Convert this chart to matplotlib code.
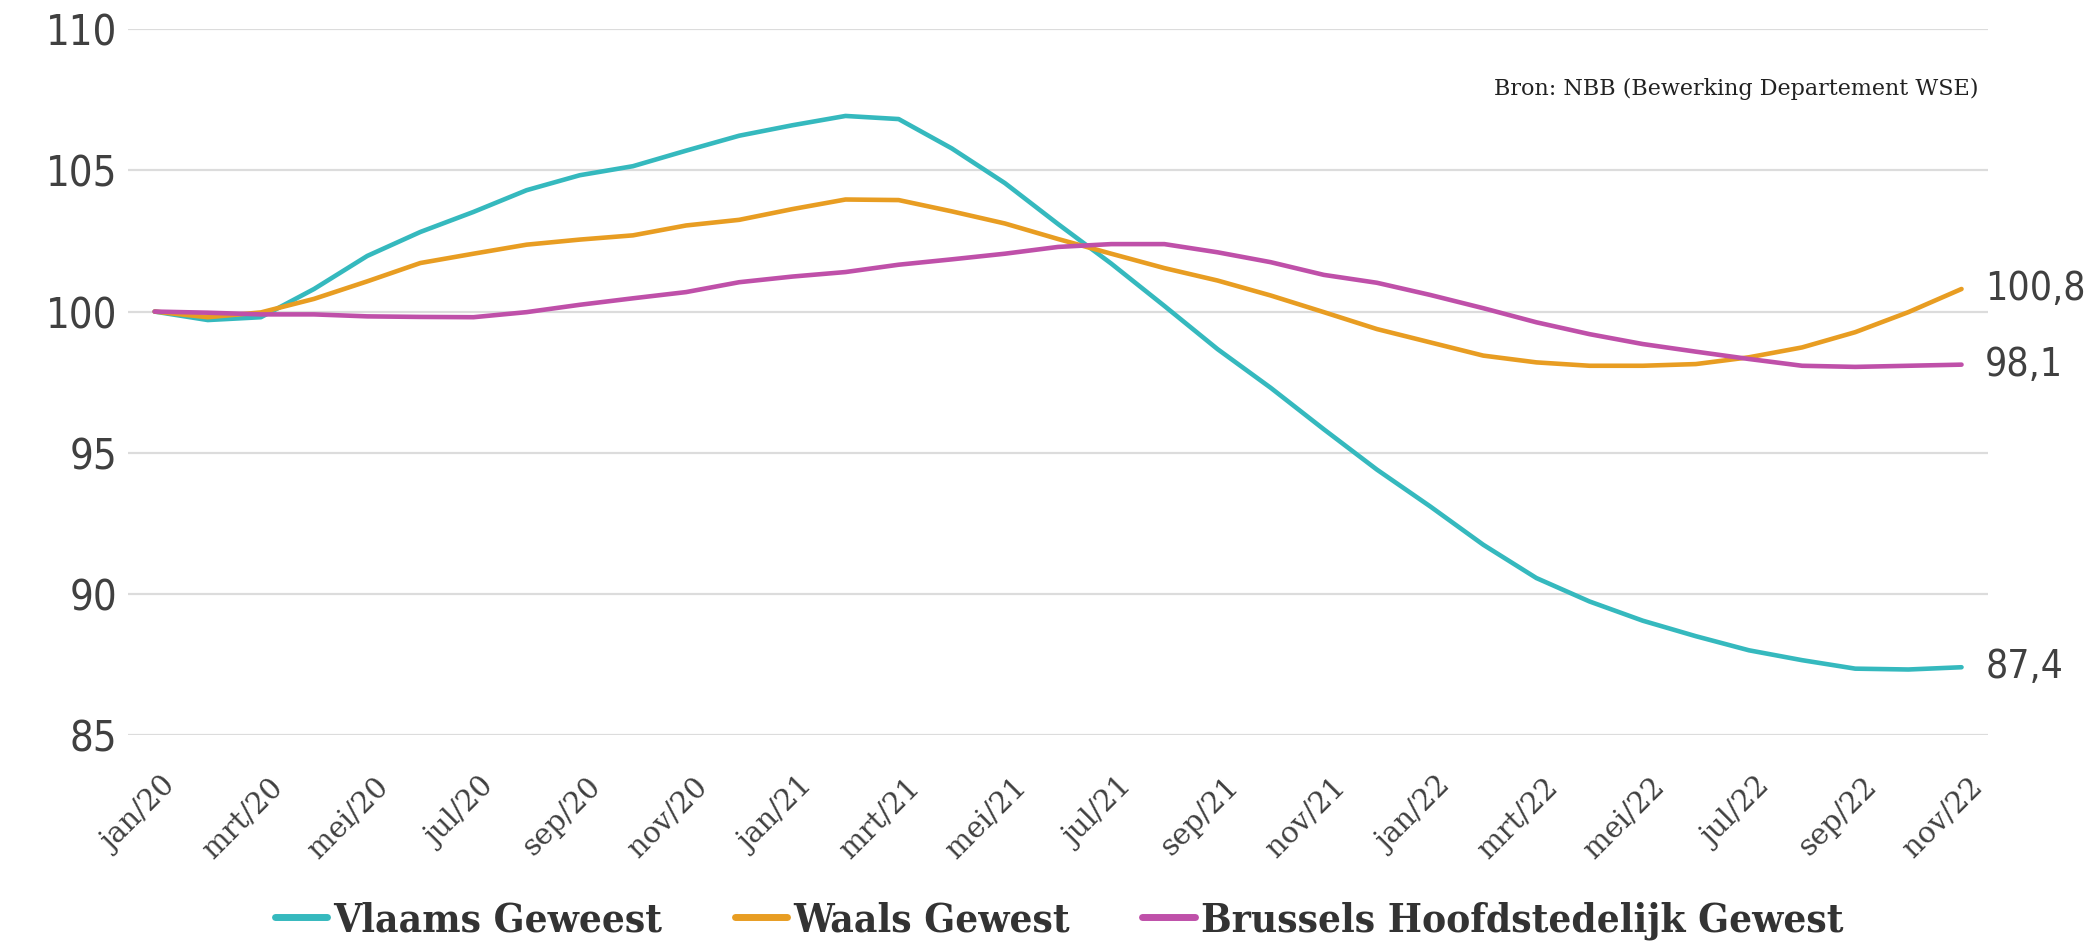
import numpy as np
import matplotlib
matplotlib.use("Agg")
import matplotlib.pyplot as plt
from matplotlib.transforms import ScaledTranslation

months = ['jan/20', 'feb/20', 'mrt/20', 'apr/20', 'mei/20', 'jun/20', 'jul/20', 'aug/20',
          'sep/20', 'okt/20', 'nov/20', 'dec/20', 'jan/21', 'feb/21', 'mrt/21', 'apr/21',
          'mei/21', 'jun/21', 'jul/21', 'aug/21', 'sep/21', 'okt/21', 'nov/21', 'dec/21',
          'jan/22', 'feb/22', 'mrt/22', 'apr/22', 'mei/22', 'jun/22', 'jul/22', 'aug/22',
          'sep/22', 'okt/22', 'nov/22']

vlaams = [100.0, 99.7, 99.8, 100.8, 101.97, 102.82, 103.53, 104.3, 104.83, 105.15, 105.7,
          106.23, 106.6, 106.93, 106.82, 105.78, 104.55, 103.1, 101.7, 100.2, 98.67, 97.3,
          95.83, 94.4, 93.1, 91.74, 90.56, 89.73, 89.05, 88.5, 88.0, 87.65, 87.35, 87.32, 87.4]
waals = [100.0, 99.8, 99.97, 100.45, 101.07, 101.72, 102.05, 102.37, 102.55, 102.7, 103.05,
         103.25, 103.63, 103.97, 103.95, 103.55, 103.12, 102.57, 102.05, 101.54, 101.1, 100.57,
         99.98, 99.38, 98.91, 98.44, 98.2, 98.08, 98.08, 98.14, 98.38, 98.73, 99.27, 99.98, 100.8]
brussel = [100.0, 99.96, 99.9, 99.9, 99.83, 99.81, 99.8, 99.98, 100.24, 100.47, 100.69,
           101.04, 101.24, 101.4, 101.66, 101.85, 102.05, 102.29, 102.39, 102.39, 102.1, 101.75,
           101.3, 101.02, 100.59, 100.12, 99.62, 99.2, 98.85, 98.58, 98.32, 98.08, 98.04, 98.08, 98.12]

series = [('Vlaams Geweest', vlaams, '#35B9BE', '87,4'),
          ('Waals Gewest', waals, '#E89D22', '100,8'),
          ('Brussels Hoofdstedelijk Gewest', brussel, '#BF50A9', '98,1')]

num_font = ['DejaVu Sans Condensed', 'DejaVu Sans']
serif_font = ['DejaVu Serif', 'Liberation Serif']
leg_font = ['DejaVu Serif Condensed', 'DejaVu Serif']

fig = plt.figure(figsize=(20.89, 9.48), dpi=100)
ax = fig.add_axes([0.0613, 0.2247, 0.8904, 0.7444])

x = np.arange(len(months))
for name, vals, col, lab in series:
    ax.plot(x, vals, color=col, lw=3.3, label=name, solid_capstyle='round', zorder=3)
    ax.annotate(lab, (x[-1], vals[-1]), xytext=(17, 0), textcoords='offset points',
                va='center', ha='left', fontsize=28, color='#404040',
                family=num_font, fontstretch='condensed')

ax.set_xlim(-0.5, len(months) - 0.5)
ax.set_ylim(85, 110)
ax.set_yticks([85, 90, 95, 100, 105, 110])
ax.grid(axis='y', color='#DCDCDC', lw=1.6, zorder=0)
ax.set_axisbelow(True)
for s in ax.spines.values():
    s.set_visible(False)

ax.tick_params(axis='y', length=0, pad=8, labelsize=30, labelcolor='#404040')
for t in ax.get_yticklabels():
    t.set_family(num_font)
    t.set_fontstretch('condensed')

ax.set_xticks(x[::2])
ax.set_xticklabels(months[::2], rotation=45, ha='right', va='top', rotation_mode='anchor',
                   fontsize=21, color='#404040', family=serif_font)
ax.tick_params(axis='x', length=0, pad=27)
shift = ScaledTranslation(7 / 100, 0, fig.dpi_scale_trans)
for t in ax.get_xticklabels():
    t.set_transform(t.get_transform() + shift)

ax.text(0.995, 0.915, 'Bron: NBB (Bewerking Departement WSE)', transform=ax.transAxes,
        ha='right', va='center', fontsize=16, color='#222222', family=serif_font)

leg = fig.legend(loc='center', bbox_to_anchor=(0.507, 0.029), ncol=3, frameon=False,
                 handlelength=1.3, handletextpad=0.15, columnspacing=1.8,
                 prop={'family': leg_font, 'weight': 'bold', 'size': 29,
                       'stretch': 'condensed'})
for t in leg.get_texts():
    t.set_color('#333333')
for h in leg.get_lines():
    h.set_linewidth(5)

fig.savefig('out.png', dpi=100)
